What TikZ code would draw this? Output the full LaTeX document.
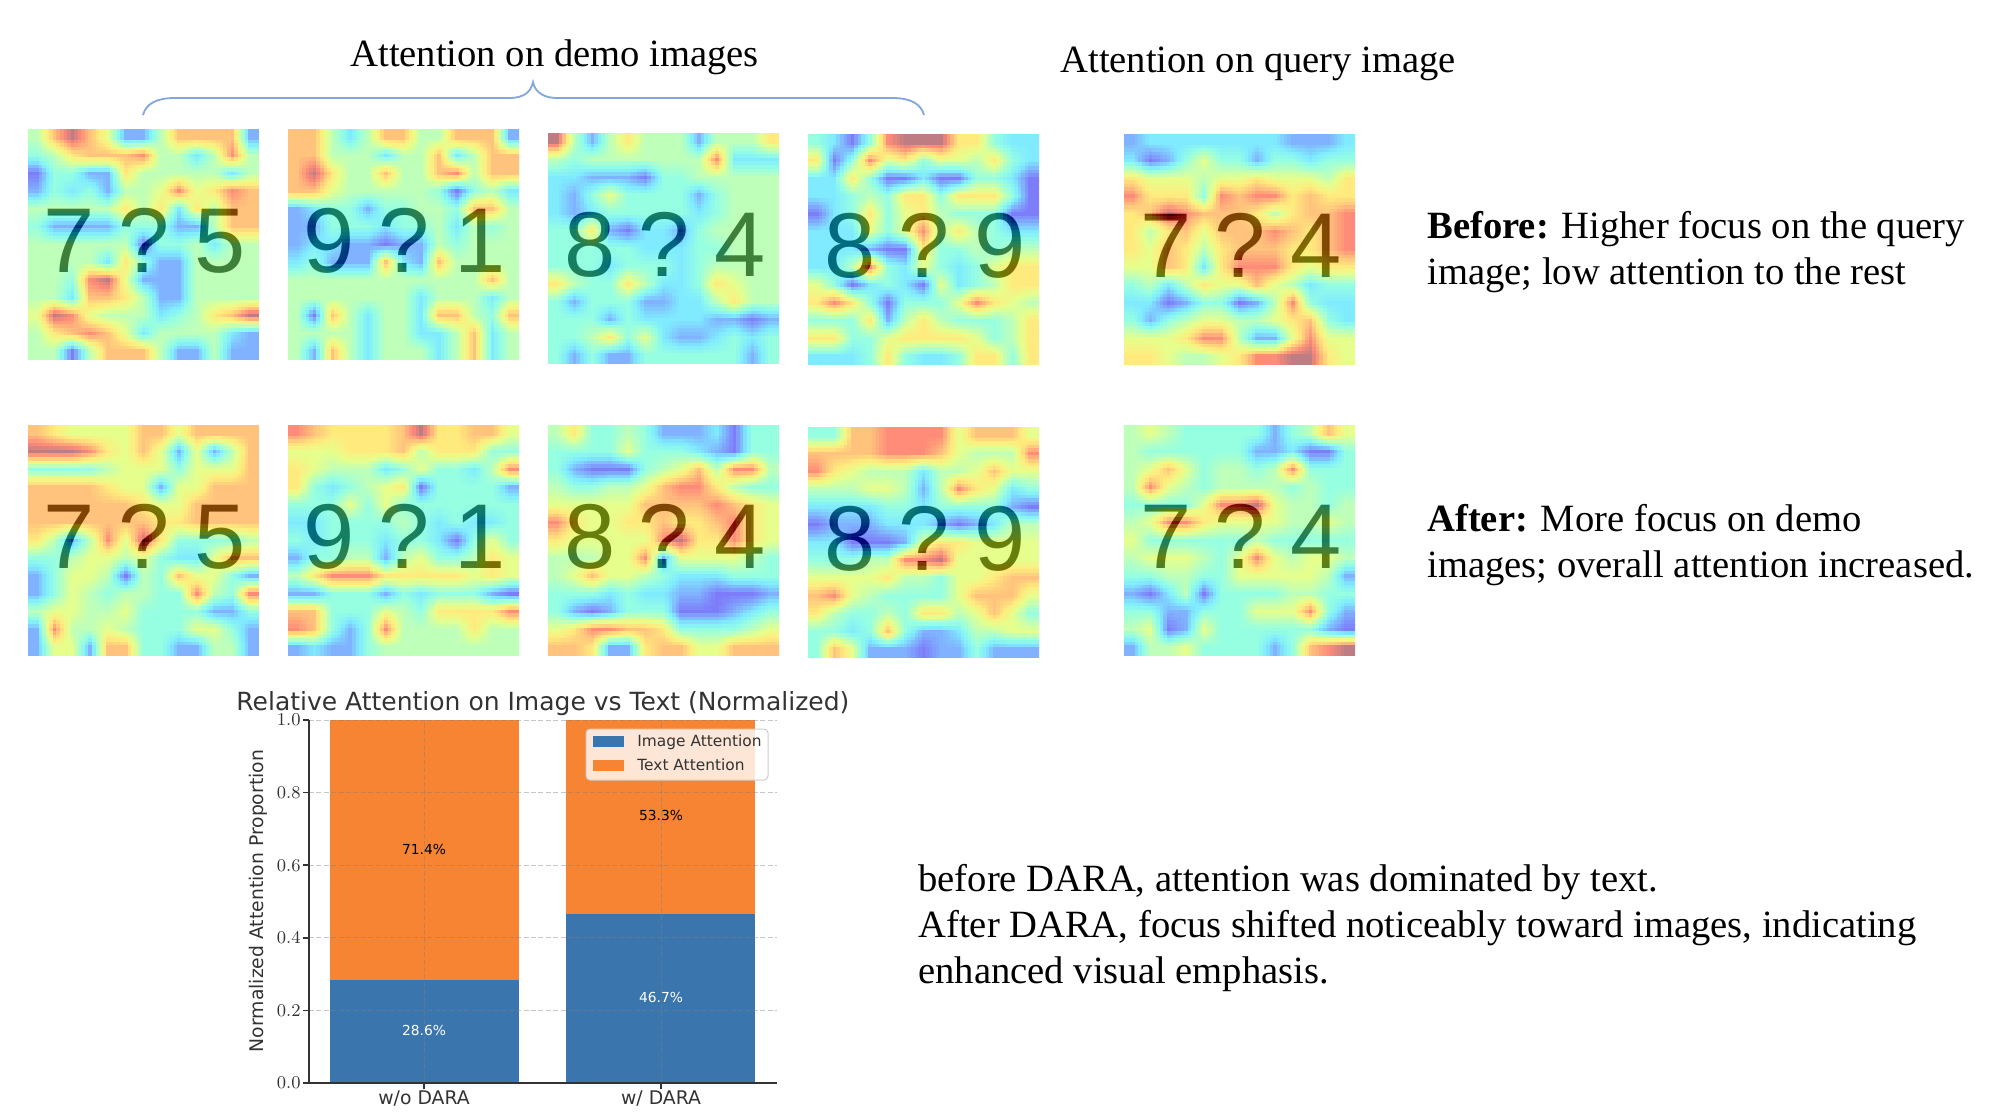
\documentclass[tikz,border=0pt]{standalone}
\usepackage{fontspec}
\setmainfont{Liberation Serif}
\newfontfamily\digitfont{Liberation Sans}
\newfontfamily\plotfont{DejaVu Sans}
\usetikzlibrary{positioning,calc}
\definecolor{digitgray}{rgb}{.5,.5,.5}
\definecolor{barblue}{RGB}{58,117,174}
\definecolor{barorange}{RGB}{246,132,50}
\definecolor{bracecol}{RGB}{130,165,222}
\definecolor{inkgray}{RGB}{51,51,51}
\def\jred#1{\ifcase#1 125\or128\or128\or150\or190\or230\or255\or255\or255\or190\fi}
\def\jgreen#1{\ifcase#1 125\or178\or235\or255\or255\or255\or235\or195\or140\or125\fi}
\def\jblue#1{\ifcase#1 250\or255\or255\or225\or185\or140\or125\or125\or120\or130\fi}
\foreach \lvl in {0,...,90}{
  \pgfmathtruncatemacro{\lo}{floor(\lvl/10)}
  \pgfmathtruncatemacro{\hi}{min(\lo+1,9)}
  \pgfmathtruncatemacro{\fr}{\lvl-10*\lo}
  \pgfmathsetmacro{\rr}{(\jred{\lo}*(10-\fr)+\jred{\hi}*\fr)/2550}
  \pgfmathsetmacro{\gg}{(\jgreen{\lo}*(10-\fr)+\jgreen{\hi}*\fr)/2550}
  \pgfmathsetmacro{\bb}{(\jblue{\lo}*(10-\fr)+\jblue{\hi}*\fr)/2550}
  \expandafter\xdef\csname heatrgb\lvl\endcsname{\rr\space\gg\space\bb}
}
\newcount\gridcol
\newcount\runstart
\newcount\runk
\def\hv#1#2{\csname hv#1,#2\endcsname}
\def\readrow#1{\ifx#1\relax\else\expandafter\xdef\csname hv\the\gridcol,\rowno\endcsname{#1}\global\advance\gridcol by1 \expandafter\readrow\fi}
\newcommand{\cellpos}[4]{%
  \edef\tv{\ifnum#1<2 0\else\ifnum#1>62 60\else\the\numexpr#1-2\relax\fi\fi}
  \edef#2{\the\numexpr(\tv-2)/5\relax}
  \ifnum#2>11 \def#2{11}\fi
  \edef#3{\the\numexpr#2+1\relax}
  \edef#4{\the\numexpr\tv-5*#2\relax}}
\newcommand{\paintrun}[1]{\xdef\rowcode{\rowcode\space\csname heatrgb\the\runk\endcsname\space rg \the\runstart\space\cb\space\the\numexpr#1-\runstart\relax.15 1.15 re f}}
\makeatletter
\newcommand{\paintgrid}{%
  \foreach \cb in {0,...,64}{
    \cellpos{\cb}{\jj}{\jjn}{\fv}
    \xdef\rowcode{q 1.77026 0 0 -1.77026 \tx\space\ty\space cm}
    \global\runstart=0
    \global\runk=-1
    \foreach \ca in {0,...,64}{
      \cellpos{\ca}{\ii}{\iin}{\fu}
      \edef\kk{\the\numexpr(((5-\fu)*(5-\fv)*\hv{\ii}{\jj}+\fu*(5-\fv)*\hv{\iin}{\jj}+(5-\fu)*\fv*\hv{\ii}{\jjn}+\fu*\fv*\hv{\iin}{\jjn})*2)/5\relax}
      \ifnum\kk=\runk\else
        \ifnum\runk<0 \else\paintrun{\ca}\fi
        \global\runstart=\ca
        \global\runk=\kk
      \fi
    }
    \paintrun{65}
    \pgfsys@invoke{\rowcode\space Q}
  }}
\makeatother
\newcommand{\heattile}[7]{%
  \begin{scope}[shift={(#2,#3)}, x=1.7769pt, y=-1.7769pt]
    \clip (0,0) rectangle (65,65);
    \pgfmathsetmacro{\tx}{#2*0.49813}
    \pgfmathsetmacro{\ty}{-#3*0.49813}
    \foreach \heatrow [count=\rowno from 0] in {#7}{
      \global\gridcol=0
      \expandafter\readrow\heatrow\relax
    }
    \paintgrid
    \begin{scope}[blend mode=difference]
      \node[digit] (#1l) at (11.7,40.3) {#4};
      \node[digit] (#1m) at (32.8,40.3) {#5};
      \node[digit] (#1r) at (54,40.3) {#6};
    \end{scope}
  \end{scope}}
\tikzset{
  digit/.style={anchor=base, inner sep=0pt, text=digitgray, font=\fontsize{46}{46}\selectfont\digitfont},
  caption/.style={anchor=west, inner sep=0pt, align=left, font=\fontsize{19.3}{23}\selectfont},
  plotlabel/.style={inner sep=0pt, text=inkgray, font=\fontsize{9.4}{11}\selectfont\plotfont},
  pct/.style={inner sep=0pt, font=\fontsize{6.9}{8}\selectfont\plotfont},
  legendlabel/.style={anchor=west, inner sep=0pt, text=inkgray, font=\fontsize{7.7}{9}\selectfont\plotfont},
  gridline/.style={gray, opacity=.45, line width=.5pt, dash pattern=on 2.5pt off 1.2pt},
  axisline/.style={inkgray, line width=.8pt}
}
\begin{document}
\begin{tikzpicture}[x=.5pt, y=-.5pt]
\useasboundingbox (0,0) rectangle (1998,1117);

\node[caption] (demotitle) at (350,57) {Attention on demo images};
\node[caption] (querytitle) at (1060,64) {Attention on query image};
\draw[bracecol, line width=.9pt] (143,115) .. controls (146,104) and (156,98) .. (175,98) -- (510,98) .. controls (522,98) and (531,93) .. (533,82) .. controls (535,93) and (545,98) .. (557,98) -- (892,98) .. controls (911,98) and (921,104) .. (924,115);

\heattile{aa}{28}{129}{7}{?}{5}{
  4797511477771,
  3467778442484,
  0331164444424,
  1323144585687,
  4444464626477,
  3111133311477,
  4444440334244,
  4444263114444,
  4438951114444,
  4427764114444,
  5985444234679,
  4678752444421,
  4404777411411}
\heattile{ab}{288}{129}{9}{?}{1}{
  7742477447771,
  7744424472477,
  7964474478477,
  7754444430342,
  1233133443774,
  1133323342434,
  1221101143444,
  2311172174444,
  4444444444474,
  4444444244424,
  4074244277437,
  4444244224724,
  4174244424724}
\heattile{ac}{548}{133}{8}{?}{4}{
  9414644414446,
  4344444448222,
  2211103344444,
  2135333313444,
  2123333323444,
  3361022134444,
  3333322233444,
  3332333234444,
  6433642236544,
  3133311224644,
  3331322221101,
  3346352112323,
  3131133333313}
\heattile{ad}{808}{134}{8}{?}{9}{
  3203899966322,
  6038563554632,
  2263002003320,
  2234366366630,
  0236356433300,
  2225358464322,
  2221006334344,
  2248325323566,
  5302320523466,
  6863033358654,
  3336146433346,
  6633566665346,
  2223632236636}
\heattile{ae}{1124}{134}{7}{?}{4}{
  1222222221112,
  2013533133233,
  6555455655546,
  8666387886766,
  6798777646778,
  6467577787678,
  6576467776678,
  5576268886566,
  3424655754233,
  2201330148322,
  3134554456732,
  5556884115855,
  6654456889965}

\heattile{ba}{28}{425}{7}{?}{5}{
  7655557757777,
  9998657515147,
  3333455535557,
  7777655155777,
  7777776557777,
  7777777667777,
  6414859633334,
  3345545322577,
  1355404375531,
  1354344338438,
  4554453333113,
  1844543335531,
  1551773311441}
\heattile{bb}{288}{425}{9}{?}{1}{
  8766667966775,
  5556667466633,
  6544423533248,
  6323456033331,
  3335353333333,
  2233334323223,
  3233323320353,
  1334414533465,
  4688866666565,
  1133313233310,
  7733354366668,
  8731384444644,
  1211344444444}
\heattile{bc}{548}{425}{8}{?}{4}{
  4633431112033,
  3333533321033,
  3100034574884,
  4334457886433,
  5555577778765,
  8655667667865,
  6555558966865,
  4445581555543,
  4575543222333,
  3332322110001,
  3101333000123,
  5688776333345,
  7761167755777}
\heattile{bd}{808}{427}{8}{?}{9}{
  3377888857775,
  7777888754448,
  8654442445755,
  4445541486523,
  2222332333310,
  0111222101244,
  2200015665555,
  3334488955555,
  5555644355677,
  7854333357775,
  6433436645753,
  3323731124455,
  3751110113111}
\heattile{be}{1124}{425}{7}{?}{4}{
  4543333313475,
  4333333112003,
  4575344348333,
  4854344443433,
  3333588954434,
  4588655554454,
  5333333433333,
  4555435854554,
  3344335555541,
  1024033334433,
  3311333555831,
  4501533333310,
  1445333313789}

\node[caption] (beforetext) at (1427,252) {\textbf{Before:} Higher focus on the query\\image; low attention to the rest};
\node[caption] (aftertext) at (1427,545) {\textbf{After:} More focus on demo\\images; overall attention increased.};
\node[caption] (daratext) at (918,928) {before DARA, attention was dominated by text.\\After DARA, focus shifted noticeably toward images, indicating\\enhanced visual emphasis.};

\fill[barblue] (330,1083) rectangle (519,980);
\fill[barorange] (330,980) rectangle (519,720);
\fill[barblue] (566,1083) rectangle (755,914);
\fill[barorange] (566,914) rectangle (755,720);
\foreach \tick in {.2,.4,.6,.8,1}{
  \draw[gridline] (309,1083-363*\tick) -- (777,1083-363*\tick);
}
\draw[gridline] (424,1083) -- (424,720);
\draw[gridline] (661,1083) -- (661,720);
\draw[axisline] (309,720) -- (309,1083) -- (777,1083);
\foreach \tick in {0,.2,.4,.6,.8,1}{
  \draw[axisline] (303,1083-363*\tick) -- (309,1083-363*\tick);
  \pgfmathsetmacro{\ticklab}{\tick}
  \node[plotlabel, anchor=east] (tick\tick) at (301,1083-363*\tick) {\pgfmathprintnumber[fixed,fixed zerofill,precision=1]{\ticklab}};
}
\draw[axisline] (424,1083) -- (424,1089);
\draw[axisline] (661,1083) -- (661,1089);
\node[plotlabel] (woDara) at (424,1099) {w/o DARA};
\node[plotlabel] (wDara) at (661,1099) {w/ DARA};
\node[plotlabel, rotate=90] (ylabel) at (258,901) {Normalized Attention Proportion};
\node[plotlabel, anchor=west, font=\fontsize{12.5}{14}\selectfont\plotfont] (charttitle) at (236,704) {Relative Attention on Image vs Text (Normalized)};
\node[pct, text=black] (textno) at (424,849) {71.4\%};
\node[pct, text=black] (textyes) at (661,815) {53.3\%};
\node[pct, text=white] (imgno) at (424,1030) {28.6\%};
\node[pct, text=white] (imgyes) at (661,997) {46.7\%};
\fill[white, opacity=.8, rounded corners=2pt] (586,729) rectangle (768,780);
\draw[gray!40, line width=.5pt, rounded corners=2pt] (586,729) rectangle (768,780);
\fill[barblue] (592.5,736) rectangle (624,747);
\fill[barorange] (592.5,760) rectangle (624,771);
\node[legendlabel] (imglegend) at (637,742) {Image Attention};
\node[legendlabel] (textlegend) at (637,765) {Text Attention};
\end{tikzpicture}
\end{document}
